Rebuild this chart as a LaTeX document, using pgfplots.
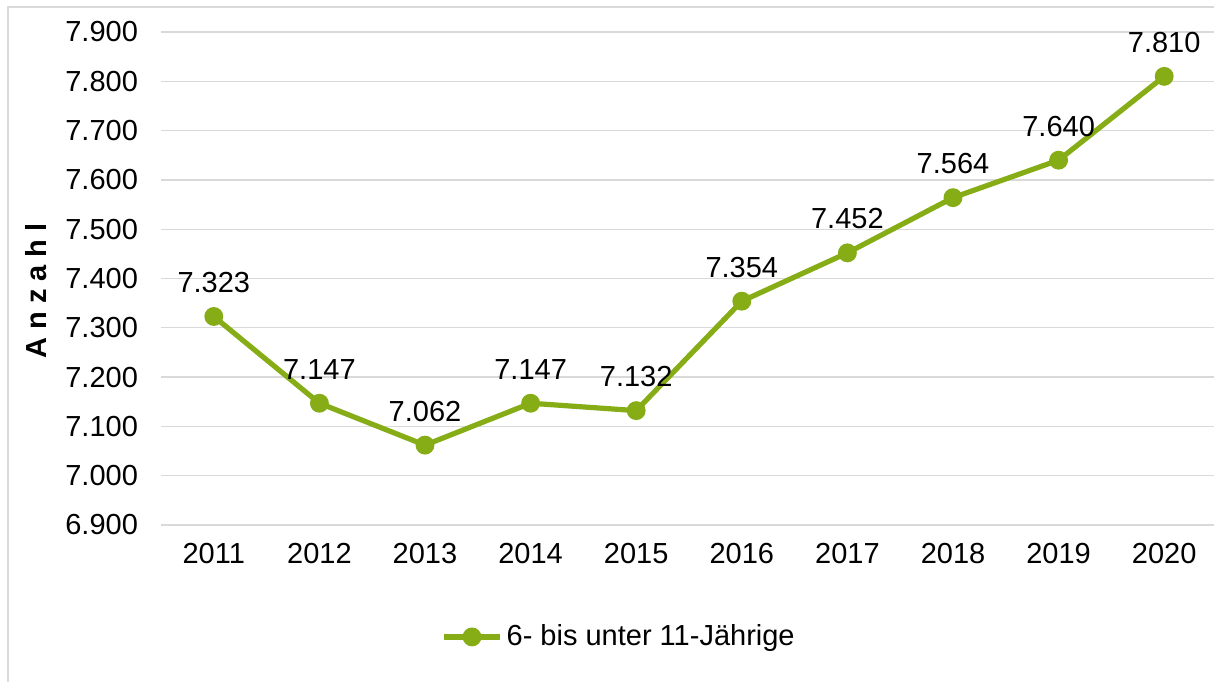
\documentclass[border=0pt]{standalone}
\usepackage{pgfplots}
\pgfplotsset{compat=1.18}
\usepackage{fontspec}
\setmainfont{Liberation Sans}
\definecolor{lgreen}{RGB}{134,172,22}
\definecolor{gridgray}{RGB}{217,217,217}
\begin{document}
\begin{tikzpicture}[x=0.5pt,y=0.5pt]
\path[use as bounding box] (0,0) rectangle (1214,682);
\draw[gridgray,line width=0.7pt] (8,0) -- (8,675) -- (1214,675);
\begin{axis}[
  at={(161*0.5pt,157*0.5pt)}, anchor=south west,
  scale only axis, width=528pt, height=246.5pt,
  xmin=-0.5, xmax=9.5, ymin=6900, ymax=7900,
  xtick={0,...,9},
  xticklabels={2011,2012,2013,2014,2015,2016,2017,2018,2019,2020},
  ytick={6900,7000,...,7900},
  axis line style={draw=none},
  major tick length=0pt,
  ymajorgrids, grid style={gridgray,line width=0.65pt},
  font=\fontsize{14.5}{17}\selectfont,
  /pgf/number format/assume math mode=true,
  /pgf/number format/.cd, fixed, precision=0, 1000 sep={.}, /pgfplots/.cd,
  yticklabel style={xshift=-8pt},
  xticklabel style={yshift=-5.5pt},
  ylabel={\textbf{A n z a h l}},
  ylabel style={at={(axis description cs:-0.118,0.475)}, anchor=center},
  nodes near coords,
  every node near coord/.append style={anchor=south, inner sep=0pt, yshift=10.5pt, text=black, font=\fontsize{14.5}{17}\selectfont},
  legend style={at={(rel axis cs:0.4347,-0.227)}, anchor=center, draw=none, fill=none, font=\fontsize{14.5}{17}\selectfont, inner sep=0pt},
  legend image code/.code={\draw[#1,mark repeat=2,mark phase=2] plot coordinates {(0pt,0pt) (14pt,0pt) (28pt,0pt)};},
  clip=false,
]
\addplot[lgreen, line width=2.6pt, mark=*, mark size=3.4pt, mark options={fill=lgreen, draw=none}]
  coordinates {(0,7323) (1,7147) (2,7062) (3,7147) (4,7132) (5,7354) (6,7452) (7,7564) (8,7640) (9,7810)};
\addlegendentry{6- bis unter 11-Jährige}
\end{axis}
\end{tikzpicture}
\end{document}
